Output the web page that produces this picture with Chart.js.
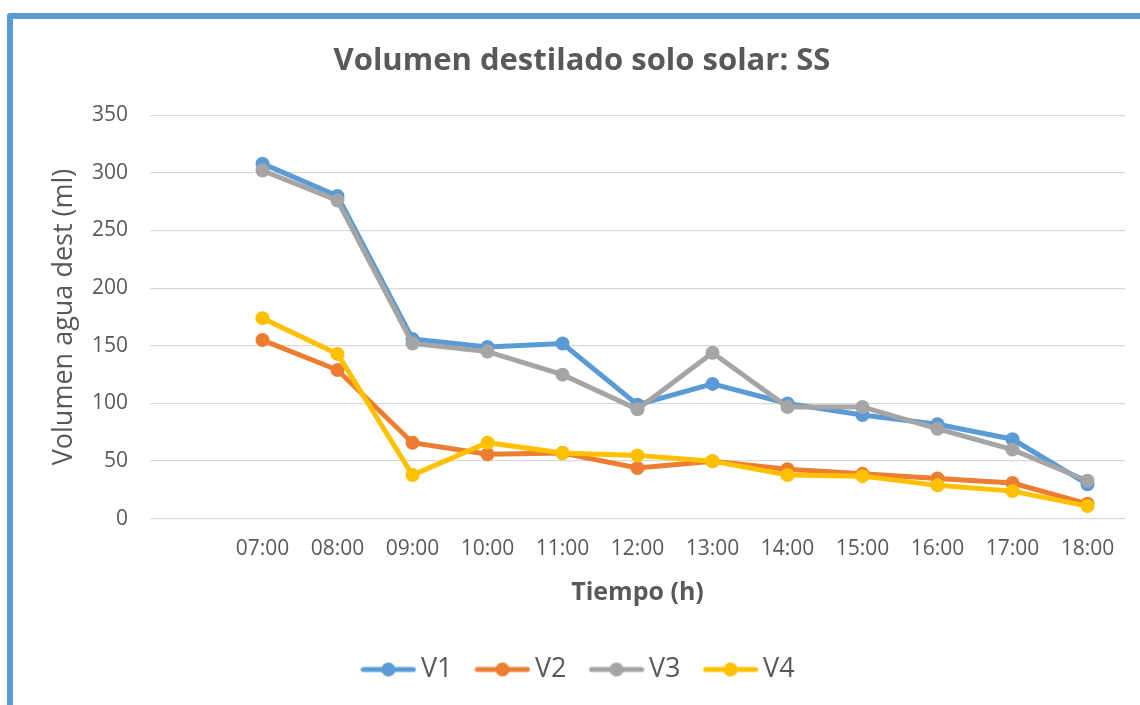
<!DOCTYPE html>
<html>
<head>
<meta charset="utf-8">
<script src="https://cdn.jsdelivr.net/npm/chart.js@4"></script>
<style>
  html, body { margin: 0; padding: 0; background: #fff; overflow: hidden; }
  #frame { position: absolute; left: 7px; top: 13px; width: 2000px; height: 2000px;
           border: 6px solid #5b9bd5; border-radius: 3px; }
  #wrap { position: absolute; left: 0; top: 0; width: 1140px; height: 705px; }
</style>
</head>
<body>
<div id="frame"></div>
<div id="wrap"><canvas id="chart"></canvas></div>
<script>
// data
let labels = ["", "07:00", "08:00", "09:00", "10:00", "11:00", "12:00", "13:00", "14:00", "15:00", "16:00", "17:00", "18:00"];
let v1 = [null, 308, 280, 156, 149, 152, 99, 117, 100, 90, 82, 69, 30];
let v2 = [null, 155, 129, 66, 56, 57, 44, 50, 43, 39, 35, 31, 13];
let v3 = [null, 302, 276, 152, 145, 125, 95, 144, 97, 97, 78, 60, 33];
let v4 = [null, 174, 143, 38, 66, 57, 55, 50, 38, 37, 29, 24, 11];
let names = ["V1", "V2", "V3", "V4"];
let colors = ["#5b9bd5", "#ed7d31", "#a5a5a5", "#ffc000"];

const FONT = "'Open Sans', sans-serif";
const GREY = "#595959";

// legend symbol: line with a dot in the middle
function legendMark(color) {
  let c = document.createElement("canvas");
  c.width = 56;
  c.height = 16;
  let g = c.getContext("2d");
  g.strokeStyle = color;
  g.lineWidth = 5;
  g.lineCap = "round";
  g.beginPath();
  g.moveTo(3, 8);
  g.lineTo(53, 8);
  g.stroke();
  g.fillStyle = color;
  g.beginPath();
  g.arc(28, 8, 7, 0, Math.PI * 2);
  g.fill();
  return c;
}

function makeSet(i, values) {
  return {
    label: names[i],
    data: values,
    borderColor: colors[i],
    backgroundColor: colors[i],
    borderWidth: 5,
    pointRadius: 7,
    pointBorderWidth: 0,
    pointBackgroundColor: colors[i],
    pointStyle: "circle",
    tension: 0,
    order: 4 - i
  };
}

let ctx = document.getElementById("chart").getContext("2d");
let chart = new Chart(ctx, {
  type: "line",
  data: {
    labels: labels,
    datasets: [makeSet(0, v1), makeSet(1, v2), makeSet(2, v3), makeSet(3, v4)]
  },
  options: {
    responsive: true,
    maintainAspectRatio: false,
    animation: false,
    layout: { padding: { left: 39, right: 15, top: 0, bottom: 12 } },
    plugins: {
      title: {
        display: true,
        text: "Volumen destilado solo solar: SS",
        color: GREY,
        font: { family: FONT, size: 31, weight: "bold" },
        padding: { top: 43, bottom: 35 }
      },
      legend: {
        position: "bottom",
        sort: (a, b) => a.datasetIndex - b.datasetIndex,
        labels: {
          color: GREY,
          font: { family: FONT, size: 27 },
          usePointStyle: true,
          pointStyleWidth: 38,
          padding: 31,
          generateLabels: chart =>
            chart.data.datasets.map((ds, i) => ({
              text: ds.label,
              datasetIndex: i,
              pointStyle: legendMark(ds.borderColor),
              fillStyle: ds.borderColor,
              strokeStyle: ds.borderColor,
              lineWidth: 0,
              fontColor: GREY,
              hidden: false
            }))
        }
      },
      tooltip: { enabled: false }
    },
    scales: {
      x: {
        offset: true,
        grid: { display: false },
        border: { display: false },
        ticks: { color: GREY, font: { family: FONT, size: 21 }, padding: 10, maxRotation: 0, autoSkip: false },
        title: {
          display: true,
          text: "Tiempo (h)",
          color: GREY,
          font: { family: FONT, size: 25, weight: "bold" },
          padding: { top: 6, bottom: 17 }
        }
      },
      y: {
        min: 0,
        max: 350,
        afterFit: s => { s.width = 111; },
        grid: { color: "#d9d9d9", lineWidth: 1.3, drawTicks: false },
        border: { display: false },
        ticks: { stepSize: 50, color: GREY, font: { family: FONT, size: 21 }, padding: 22 },
        title: {
          display: true,
          text: "Volumen agua dest (ml)",
          color: GREY,
          font: { family: FONT, size: 27 },
          padding: { top: 9, bottom: 0 }
        }
      }
    }
  }
});
</script>
</body>
</html>
